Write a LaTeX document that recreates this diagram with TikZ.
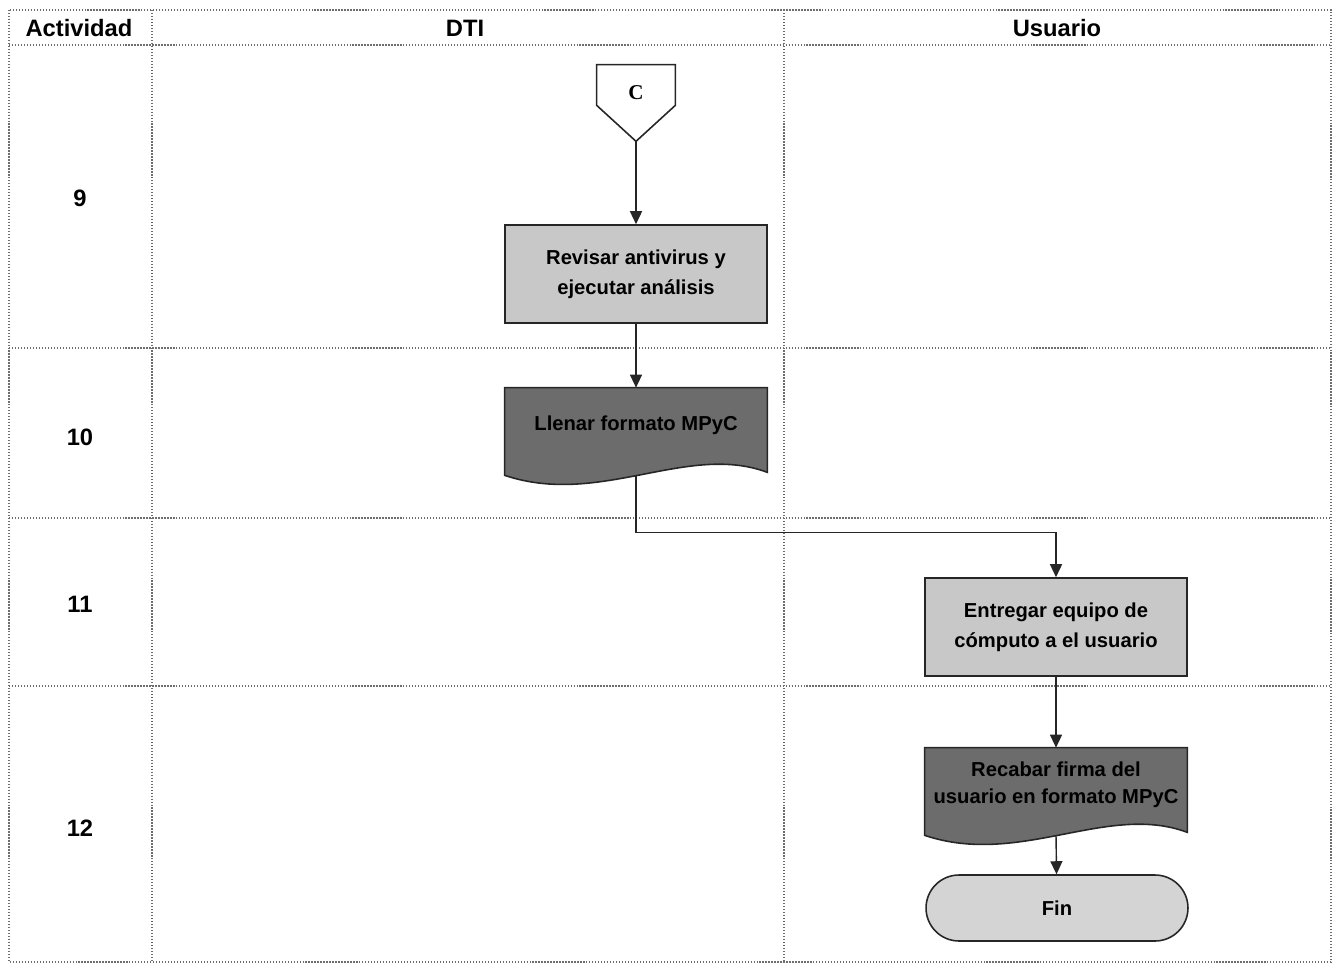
\documentclass[tikz,border=0pt]{standalone}
\usepackage{fontspec}
\setmainfont{Liberation Sans}
\newfontfamily\conectorfont{Liberation Serif}
\usepackage{xcolor}
\usepackage{tikz}
\usetikzlibrary{arrows.meta,backgrounds}
\definecolor{grisclaro}{RGB}{200,200,200}
\definecolor{grisoscuro}{RGB}{108,108,108}
\definecolor{grisfin}{RGB}{212,212,212}
\definecolor{rejilla}{RGB}{110,110,110}

\begin{document}
\begin{tikzpicture}[x=0.02cm, y=-0.02cm,
        rejilla/.style={densely dotted, draw=rejilla, line width=0.7pt},
        titulo/.style={font=\fontsize{13.5}{16}\selectfont\bfseries},
        proceso/.style={rectangle, draw=black!85, line width=0.9pt, fill=grisclaro, minimum width=5.24cm, minimum height=1.96cm, align=center, font=\fontsize{11.5}{17}\selectfont\bfseries},
        documento/.style={rectangle, minimum width=5.24cm, minimum height=1.48cm, align=center, font=\fontsize{11.5}{15.5}\selectfont\bfseries},
        hoja/.style={draw=black!85, line width=0.9pt, fill=grisoscuro},
        terminal/.style={rectangle, rounded corners=0.66cm, draw=black!85, line width=0.9pt, fill=grisfin, minimum width=5.24cm, minimum height=1.32cm, font=\fontsize{11.5}{14}\selectfont\bfseries},
        flecha/.style={-{Triangle[length=0.26cm,width=0.24cm]}, line width=0.8pt, draw=black!85}]
        \useasboundingbox (0, 0) rectangle (1334, 966);
        % tabla
        \draw [rejilla] (9, 10) rectangle (1331, 962);
        \draw [rejilla] (152, 10) -- (152, 962);
        \draw [rejilla] (784, 10) -- (784, 962);
        \foreach \y in {45, 348, 518, 686}
            \draw [rejilla] (9, \y) -- (1331, \y);
        \node (hact) at (79, 28) [titulo] {Actividad};
        \node (hdti) at (465, 28) [titulo] {DTI};
        \node (husu) at (1057, 28) [titulo] {Usuario};
        \node (a9) at (80, 198) [titulo] {9};
        \node (a10) at (80, 437) [titulo] {10};
        \node (a11) at (80, 604) [titulo] {11};
        \node (a12) at (80, 828) [titulo] {12};
        % conector C
        \node (conC) at (636, 93) [minimum width=1.56cm, minimum height=1.12cm, font=\conectorfont\fontsize{12}{14}\selectfont\bfseries] {C};
        \coordinate (conC-tip) at ([yshift=-0.4cm]conC.south);
        \begin{scope}[on background layer]
            \draw [draw=black!85, line width=0.9pt, fill=white] (conC.north west) -- (conC.north east) -- ([yshift=0.32cm]conC.south east) -- (conC-tip) -- ([yshift=0.32cm]conC.south west) -- cycle;
        \end{scope}
        % nodos
        \node (revisar) at (636, 274) [proceso] {Revisar antivirus y\\ejecutar análisis};
        \node (llenar) at (636, 425) [documento] {Llenar formato MPyC};
        \node (entregar) at (1056, 627) [proceso] {Entregar equipo de\\cómputo a el usuario};
        \node (recabar) at (1056, 785) [documento] {Recabar firma del\\usuario en formato MPyC};
        \node (fin) at (1057, 908) [terminal] {Fin};
        \coordinate (llenar-out) at ([yshift=-0.26cm]llenar.south);
        \coordinate (recabar-out) at ([yshift=-0.26cm]recabar.south);
        \begin{scope}[on background layer]
            \foreach \d in {llenar, recabar}
                \draw [hoja] (\d.north west) -- (\d.north east) -- ([yshift=-0.2cm]\d.south east) .. controls ([xshift=-1.6cm, yshift=0.4cm]\d.south east) and ([xshift=1.9cm, yshift=-0.9cm]\d.south west) .. ([yshift=-0.26cm]\d.south west) -- cycle;
        \end{scope}
        % flechas
        \draw [flecha] (conC-tip) -- (revisar);
        \draw [flecha] (revisar) -- (llenar);
        \draw [flecha] (llenar-out) -- ++(0, 57) -| (entregar.north);
        \draw [flecha] (entregar) -- (recabar);
        \draw [flecha] (recabar-out) -- (fin);
    \end{tikzpicture}
\end{document}
